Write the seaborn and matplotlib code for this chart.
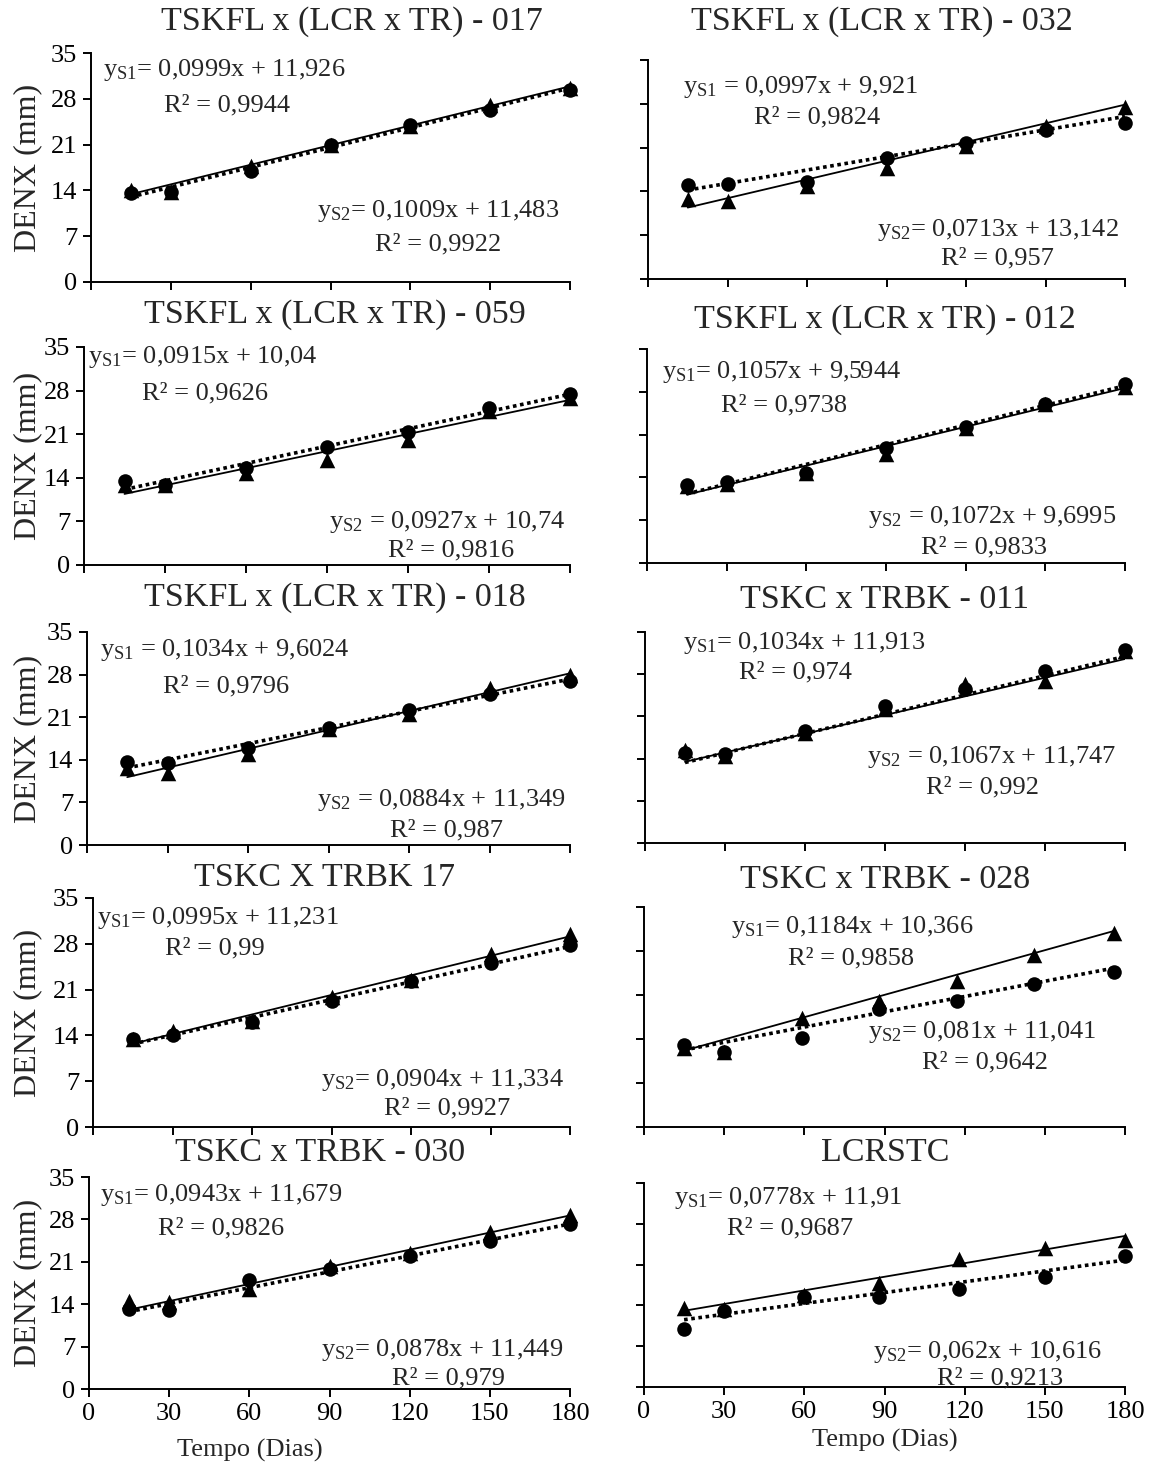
import matplotlib
matplotlib.use('Agg')
import matplotlib.pyplot as plt
import seaborn as sns
import pandas as pd

W, H = 1150, 1468

# Panel titles
titles = ['TSKFL x (LCR x TR) - 017', 'TSKFL x (LCR x TR) - 032',
          'TSKFL x (LCR x TR) - 059', 'TSKFL x (LCR x TR) - 012',
          'TSKFL x (LCR x TR) - 018', 'TSKC x TRBK - 011',
          'TSKC X TRBK 17', 'TSKC x TRBK - 028',
          'TSKC x TRBK - 030', 'LCRSTC']

# Days of sampling
dias = [15, 30, 60, 90, 120, 150, 180]
dias_028 = [15, 30, 59, 88, 117, 146, 176]
dias_lcrstc = [15, 30, 60, 88, 118, 150, 180]
dias_all = [dias, dias, dias, dias, dias, dias, dias, dias_028, dias, dias_lcrstc]

# S1 (triangles) and S2 (circles), DENX in mm
s1_017 = [14.0, 13.8, 17.8, 21.0, 23.8, 27.0, 29.7]
s2_017 = [13.6, 13.8, 17.0, 21.0, 24.0, 26.3, 29.4]
s1_032 = [12.8, 12.5, 14.8, 17.8, 21.2, 24.5, 27.5]
s2_032 = [15.0, 15.2, 15.5, 19.3, 21.8, 23.8, 25.0]
s1_059 = [12.8, 12.8, 14.8, 16.8, 20.0, 24.8, 26.8]
s2_059 = [13.5, 12.9, 15.5, 19.0, 21.3, 25.2, 27.4]
s1_012 = [12.6, 13.0, 14.8, 17.8, 22.0, 26.0, 28.8]
s2_012 = [12.8, 13.2, 14.8, 18.8, 22.3, 26.0, 29.2]
s1_018 = [12.6, 11.8, 15.0, 19.0, 21.5, 25.8, 28.0]
s2_018 = [13.6, 13.5, 16.0, 19.3, 22.2, 24.8, 27.0]
s1_011 = [15.5, 14.5, 18.2, 22.3, 26.3, 26.8, 31.8]
s2_011 = [15.0, 14.8, 18.5, 22.8, 25.5, 28.5, 32.0]
s1_17 = [13.4, 14.6, 16.2, 19.8, 22.5, 26.5, 29.5]
s2_17 = [13.4, 14.0, 16.0, 19.3, 22.3, 25.0, 27.8]
s1_028 = [12.5, 12.0, 17.3, 20.0, 23.3, 27.3, 30.8]
s2_028 = [13.1, 12.0, 14.2, 18.7, 20.0, 22.7, 24.7]
s1_030 = [14.5, 14.3, 16.5, 20.3, 22.5, 26.0, 28.8]
s2_030 = [13.2, 13.0, 18.0, 19.8, 22.0, 24.5, 27.2]
s1_lcrstc = [13.6, 13.3, 15.8, 17.8, 22.0, 23.8, 25.2]
s2_lcrstc = [10.0, 13.0, 15.5, 15.5, 16.8, 18.8, 22.5]

s1_all = [s1_017, s1_032, s1_059, s1_012, s1_018, s1_011, s1_17, s1_028, s1_030, s1_lcrstc]
s2_all = [s2_017, s2_032, s2_059, s2_012, s2_018, s2_011, s2_17, s2_028, s2_030, s2_lcrstc]

# Trendline coefficients shown on the chart
a1 = [0.0999, 0.0997, 0.0915, 0.1057, 0.1034, 0.1034, 0.0995, 0.1184, 0.0943, 0.0778]
b1 = [11.926, 9.921, 10.04, 9.5944, 9.6024, 11.913, 11.231, 10.366, 11.679, 11.91]
r1 = [0.9944, 0.9824, 0.9626, 0.9738, 0.9796, 0.974, 0.99, 0.9858, 0.9826, 0.9687]
a2 = [0.1009, 0.0713, 0.0927, 0.1072, 0.0884, 0.1067, 0.0904, 0.081, 0.0878, 0.062]
b2 = [11.483, 13.142, 10.74, 9.6995, 11.349, 11.747, 11.334, 11.041, 11.449, 10.616]
r2 = [0.9922, 0.957, 0.9816, 0.9833, 0.987, 0.992, 0.9927, 0.9642, 0.979, 0.9213]
gap1 = [False, True, False, False, True, False, False, False, False, False]
gap2 = [False, False, True, True, True, True, False, False, False, False]

# Axes rectangles in pixels: x of day 0, x of day 180, top (35), bottom (0)
rects = [(91, 570, 53, 282), (648, 1125, 60, 279),
         (84, 570, 347, 565), (647, 1125, 349, 563),
         (87, 570, 632, 845), (645, 1125, 632, 843),
         (93, 570, 898, 1127), (644, 1125, 907, 1127),
         (89, 570, 1177, 1389), (644, 1125, 1183, 1387)]
title_pos = [(352, 22), (882, 22), (335, 315), (885, 320), (335, 598),
             (885, 600), (325, 878), (885, 880), (320, 1153), (885, 1153)]
# eq1 left start (x, y); R2 centre (x, y); eq2 centre (x, y); R2 centre (x, y)
text_pos = [
    [(103, 70), (227, 105), (438, 211), (438, 244)],
    [(683, 87), (817, 117), (998, 230), (997, 258)],
    [(88, 357), (205, 393), (447, 522), (451, 550)],
    [(662, 372), (784, 405), (992, 517), (984, 547)],
    [(100, 650), (226, 686), (441, 800), (447, 830)],
    [(683, 643), (795, 672), (992, 757), (982, 787)],
    [(97, 918), (215, 948), (442, 1080), (447, 1108)],
    [(731, 927), (851, 958), (982, 1032), (985, 1062)],
    [(100, 1195), (221, 1228), (442, 1350), (448, 1378)],
    [(674, 1198), (790, 1228), (988, 1352), (1000, 1378)],
]

sns.set_theme(style='ticks')
plt.rcParams['font.family'] = ['Liberation Serif', 'DejaVu Serif']
plt.rcParams['mathtext.fontset'] = 'custom'
plt.rcParams['mathtext.rm'] = 'Liberation Serif'
plt.rcParams['mathtext.it'] = 'Liberation Serif:italic'
plt.rcParams['axes.edgecolor'] = 'black'
plt.rcParams['xtick.color'] = 'black'
plt.rcParams['ytick.color'] = 'black'


def num(v):
    return str(v).replace('.', ',')


def eq_text(sub, a, b, gap):
    sep = ' = ' if gap else '= '
    return r'y$_{\mathrm{' + sub + '}}$' + sep + num(a) + 'x + ' + num(b)


fig = plt.figure(figsize=(W / 100, H / 100), dpi=100)

for i in range(10):
    x0, x1, yt, yb = rects[i]
    ax = fig.add_axes([x0 / W, 1 - yb / H, (x1 - x0) / W, (yb - yt) / H])
    xs = dias_all[i]
    df = pd.DataFrame({'dias': xs, 'S1': s1_all[i], 'S2': s2_all[i]})
    ends = [xs[0], xs[-1]]
    sns.lineplot(x=ends, y=[a1[i] * v + b1[i] for v in ends], color='black',
                 linewidth=1.3, ax=ax)
    sns.lineplot(x=ends, y=[a2[i] * v + b2[i] for v in ends], color='black',
                 linewidth=2.6, linestyle=(0, (1, 1)), ax=ax)
    sns.scatterplot(data=df, x='dias', y='S1', marker='^', s=125, color='black',
                    edgecolor='black', linewidth=0, ax=ax, clip_on=False, zorder=3)
    sns.scatterplot(data=df, x='dias', y='S2', marker='o', s=110, color='black',
                    edgecolor='black', linewidth=0, ax=ax, clip_on=False, zorder=4)

    ax.set_xlim(0, 180)
    ax.set_ylim(0, 35)
    ax.set_xticks(range(0, 181, 30))
    ax.set_yticks(range(0, 36, 7))
    ax.set_xlabel('')
    ax.set_ylabel('')
    sns.despine(ax=ax)
    for sp in ['left', 'bottom']:
        ax.spines[sp].set_linewidth(1.4)
    ax.tick_params(direction='out', length=6, width=1.4, labelsize=19, pad=4)
    if i < 8:
        ax.set_xticklabels([])
    if i % 2 == 1:
        ax.set_yticklabels([])
    else:
        fig.text(28 / W, 1 - (yt + yb) / 2 / H, 'DENX (mm)', rotation=90,
                 ha='center', va='center', fontsize=23)

    tx, ty = title_pos[i]
    fig.text(tx / W, 1 - ty / H, titles[i], ha='center', va='center', fontsize=24.5)
    p = text_pos[i]
    fig.text(p[0][0] / W, 1 - p[0][1] / H, eq_text('S1', a1[i], b1[i], gap1[i]),
             ha='left', va='center', fontsize=19)
    fig.text(p[1][0] / W, 1 - p[1][1] / H, 'R² = ' + num(r1[i]),
             ha='center', va='center', fontsize=19)
    fig.text(p[2][0] / W, 1 - p[2][1] / H, eq_text('S2', a2[i], b2[i], gap2[i]),
             ha='center', va='center', fontsize=19)
    fig.text(p[3][0] / W, 1 - p[3][1] / H, 'R² = ' + num(r2[i]),
             ha='center', va='center', fontsize=19)

fig.text(250 / W, 1 - 1450 / H, 'Tempo (Dias)', ha='center', va='center', fontsize=19)
fig.text(885 / W, 1 - 1440 / H, 'Tempo (Dias)', ha='center', va='center', fontsize=19)

fig.savefig('out.png', dpi=100)
